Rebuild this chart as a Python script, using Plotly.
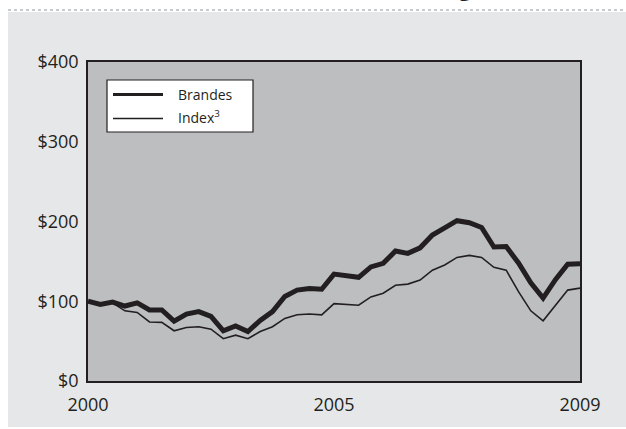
import plotly.graph_objects as go

# quarterly observations, index 0 = start of 2000, index 40 = end (2009)
quarters = list(range(41))
brandes = [100, 96, 99, 94, 98, 89, 89, 75, 84, 87,
           81, 63, 69, 62, 76, 87, 106, 114, 116, 115,
           134, 132, 130, 143, 147.5, 163, 160, 167, 183, 192,
           201, 198.5, 192.5, 168, 168.5, 148, 123, 104, 127, 146.5, 147]
index3 = [100, 97, 98, 88, 86, 74, 73.5, 63, 67, 68,
          65, 53, 57.5, 53, 62, 68, 78.5, 83, 84, 83,
          97, 96, 95, 105.5, 110, 120, 121.5, 126.5, 139, 145.5,
          155, 157.5, 155, 142.5, 139, 112, 88, 75.5, 95, 114, 116.5]
series_names = ["Brandes", "Index<sup>3</sup>"]
x_tickvals = [0, 20, 40]
x_ticktext = ["2000", "2005", "2009"]
y_tickvals = [0, 100, 200, 300, 400]
y_ticktext = ["$0", "$100", "$200", "$300", "$400"]

W, H = 626, 429
L, R, T, B = 88, 46, 62, 48
pw, ph = W - L - R, H - T - B

def px(x):
    return (x - L) / pw

def py(y):
    return (H - B - y) / ph

ink = "#231f20"
font_family = "Open Sans, Noto Sans, sans-serif"

fig = go.Figure()
fig.add_trace(go.Scatter(x=quarters, y=brandes, mode="lines", name=series_names[0],
                         line=dict(color=ink, width=5), showlegend=False))
fig.add_trace(go.Scatter(x=quarters, y=index3, mode="lines", name=series_names[1],
                         line=dict(color=ink, width=1.6), showlegend=False))

# legend box (drawn by hand to match the reference key)
legend_shapes = [
    dict(type="rect", xref="paper", yref="paper",
         x0=px(107), x1=px(253), y0=py(132), y1=py(80),
         fillcolor="white", line=dict(color=ink, width=1.2)),
    dict(type="line", xref="paper", yref="paper",
         x0=px(113), x1=px(163), y0=py(94.5), y1=py(94.5),
         line=dict(color=ink, width=3.2)),
    dict(type="line", xref="paper", yref="paper",
         x0=px(113), x1=px(163), y0=py(118.5), y1=py(118.5),
         line=dict(color=ink, width=1.3)),
]
legend_annots = [
    dict(text=series_names[0], xref="paper", yref="paper", x=px(176), y=py(94.5),
         xanchor="left", yanchor="middle", showarrow=False,
         font=dict(size=14, color=ink, family=font_family)),
    dict(text=series_names[1], xref="paper", yref="paper", x=px(176), y=py(117),
         xanchor="left", yanchor="middle", showarrow=False,
         font=dict(size=14, color=ink, family=font_family)),
]

fig.update_layout(
    width=W, height=H,
    margin=dict(l=L, r=R, t=T, b=B),
    paper_bgcolor="white",
    plot_bgcolor="rgba(0,0,0,0)",
    font=dict(family=font_family, color=ink, size=18),
    showlegend=False,
    shapes=[
        dict(type="rect", xref="paper", yref="paper", layer="below",
             x0=px(8), x1=px(626), y0=py(427), y1=py(12),
             fillcolor="#e6e7e8", line=dict(width=0)),
        dict(type="rect", xref="paper", yref="paper", layer="below",
             x0=0, x1=1, y0=0, y1=1,
             fillcolor="#bcbec0", line=dict(width=0)),
        dict(type="line", xref="paper", yref="paper",
             x0=px(8), x1=px(626), y0=py(10), y1=py(10),
             line=dict(color="#939598", width=1, dash="dot")),
    ] + legend_shapes,
    annotations=[
        dict(text="<b>g</b>", xref="paper", yref="paper", x=px(465), y=py(4.5),
             xanchor="center", yanchor="bottom", showarrow=False,
             font=dict(size=22, color=ink, family=font_family)),
    ] + legend_annots,
)
fig.update_xaxes(range=[0, 40], tickvals=x_tickvals, ticktext=x_ticktext,
                 showgrid=False, zeroline=False, showline=True, mirror=True,
                 linecolor=ink, linewidth=1.5, ticks="", ticklabelstandoff=7)
fig.update_yaxes(range=[0, 400], tickvals=y_tickvals, ticktext=y_ticktext,
                 showgrid=False, zeroline=False, showline=True, mirror=True,
                 linecolor=ink, linewidth=1.5, ticks="", ticklabelstandoff=4)

fig.write_html("out.html")
